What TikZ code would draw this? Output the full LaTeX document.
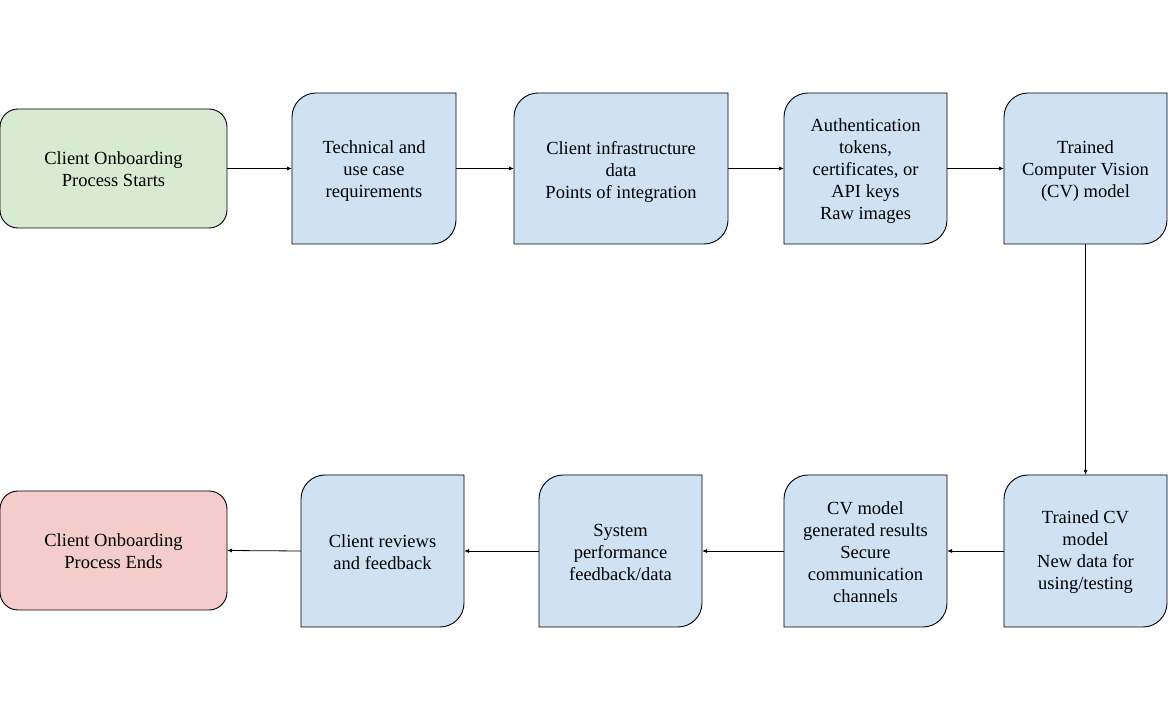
\documentclass[tikz,border=0pt]{standalone}
\usepackage{fontspec}
\setmainfont{Liberation Serif}
\usetikzlibrary{arrows.meta,backgrounds}
\definecolor{bluefill}{HTML}{CFE2F3}
\definecolor{greenfill}{HTML}{D9EAD3}
\definecolor{redfill}{HTML}{F4CCCC}
\tikzset{
  txt/.style={align=center, inner sep=0pt, outer sep=0pt, font=\fontsize{18.5}{22}\selectfont},
  bxline/.style={draw=black, line width=0.9pt, fill=bluefill},
  termbox/.style={inner sep=0pt, outer sep=0pt, draw=black, line width=0.9pt, rounded corners=18pt, minimum width=227pt, minimum height=119pt},
  conn/.style={draw=black, line width=0.8pt, -{Latex[length=5pt,width=4pt]}}
}
\newcommand{\blkbox}[7]{% name, cx, cy, w, h, text shift, text
  \node[inner sep=0pt, outer sep=0pt, minimum width=#4pt, minimum height=#5pt] (#1) at (#2,#3) {};
  \draw[bxline] (#1.south west) -- ([yshift=-24pt]#1.north west)
      arc[start angle=180,end angle=90,radius=24pt] -- (#1.north east)
      -- ([yshift=24pt]#1.south east)
      arc[start angle=0,end angle=-90,radius=24pt] -- cycle;
  \node[txt] (#1t) at ([yshift=#6pt]#1.center) {#7};
}
\begin{document}
\begin{tikzpicture}[x=1pt,y=1pt]
\begin{scope}[on background layer]
\fill[white] (0,0) rectangle (1168,718);
\end{scope}
\useasboundingbox (0,0) rectangle (1168,718);
% row 1
\node[termbox, fill=greenfill] (start) at (113.5,549.5) {};
\node[txt] (startt) at ([yshift=-1pt]start.center) {Client Onboarding\\Process Starts};
\blkbox{b2}{374}{549.5}{164}{151}{-3}{Technical and\\use case\\requirements}
\blkbox{b3}{621}{549.5}{214}{151}{-3}{Client infrastructure\\data\\Points of integration}
\blkbox{b4}{865.5}{549.5}{163}{151}{-3}{Authentication\\tokens,\\certificates, or\\API keys\\Raw images}
\blkbox{b5}{1085.5}{549.5}{163}{151}{-3}{Trained\\Computer Vision\\(CV) model}
% row 2
\blkbox{b6}{1085.5}{167}{163}{152}{-1}{Trained CV\\model\\New data for\\using/testing}
\blkbox{b7}{865.5}{167}{163}{152}{-1}{CV model\\generated results\\Secure\\communication\\channels}
\blkbox{b8}{620.5}{167}{163}{152}{-1}{System\\performance\\feedback/data}
\blkbox{b9}{382.5}{167}{163}{152}{-1}{Client reviews\\and feedback}
\node[termbox, fill=redfill] (end) at (113.5,167.5) {};
\node[txt] (endt) at ([yshift=-1pt]end.center) {Client Onboarding\\Process Ends};
% connectors
\draw[conn] (start.east) -- (b2.west);
\draw[conn] (b2.east) -- (b3.west);
\draw[conn] (b3.east) -- (b4.west);
\draw[conn] (b4.east) -- (b5.west);
\draw[conn] (b5.south) -- (b6.north);
\draw[conn] (b6.west) -- (b7.east);
\draw[conn] (b7.west) -- (b8.east);
\draw[conn] (b8.west) -- (b9.east);
\draw[conn] (b9.west) -- (end.east);
\end{tikzpicture}
\end{document}
